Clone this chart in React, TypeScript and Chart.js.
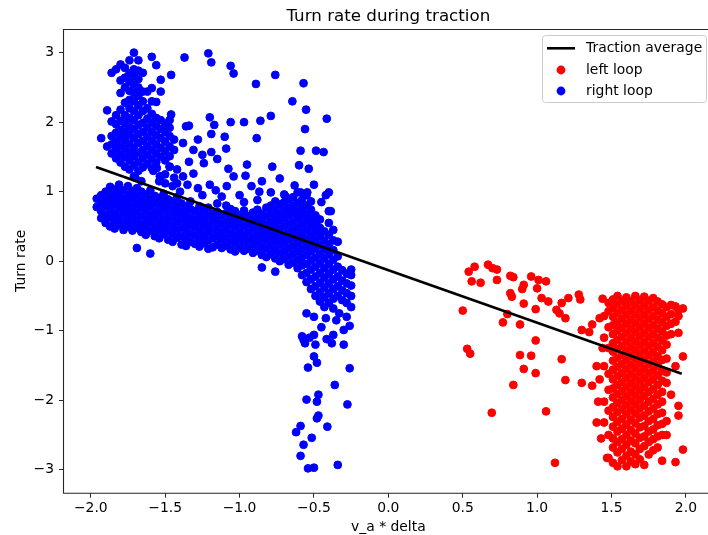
import React, { useEffect, useRef } from "react";
import { Chart, registerables } from "chart.js";

Chart.register(...registerables);

const TITLE = "Turn rate during traction";
const X_LABEL = "v_a * delta";
const Y_LABEL = "Turn rate";
const LEGEND_LABELS = ["Traction average", "left loop", "right loop"];

const xTickValues = [-2, -1.5, -1, -0.5, 0, 0.5, 1, 1.5, 2];
const yTickValues = [-3, -2, -1, 0, 1, 2, 3];

// Traction average (fitted line end points)
const trendX = [-1.965, 1.972];
const trendY = [1.355, -1.619];

// right loop: dense band, columns of [x, ys]
const rightLoopBand: [number, number[]][] = [
  [-1.96, [0.78, 0.9]],
  [-1.93, [0.62, 0.72, 0.84, 0.95]],
  [-1.9, [0.55, 0.66, 0.79, 0.88, 1.0]],
  [-1.87, [0.5, 0.63, 0.74, 0.86, 0.97, 1.07]],
  [-1.84, [0.47, 0.58, 0.69, 0.81, 0.92, 1.03]],
  [-1.81, [0.52, 0.64, 0.76, 0.87, 0.98, 1.1]],
  [-1.78, [0.45, 0.56, 0.68, 0.79, 0.9, 1.02]],
  [-1.75, [0.5, 0.61, 0.73, 0.84, 0.95, 1.08]],
  [-1.72, [0.44, 0.55, 0.67, 0.78, 0.9, 1.01]],
  [-1.69, [0.19, 0.48, 0.6, 0.71, 0.83, 0.94, 1.05]],
  [-1.66, [0.42, 0.53, 0.65, 0.77, 0.88, 1.0]],
  [-1.63, [0.38, 0.5, 0.61, 0.73, 0.84, 0.96]],
  [-1.6, [0.11, 0.44, 0.56, 0.67, 0.79, 0.9, 1.02]],
  [-1.57, [0.36, 0.48, 0.6, 0.71, 0.83, 0.94]],
  [-1.54, [0.33, 0.45, 0.56, 0.68, 0.8, 0.91]],
  [-1.51, [0.39, 0.5, 0.62, 0.74, 0.86, 0.97]],
  [-1.48, [0.31, 0.43, 0.55, 0.66, 0.78, 0.89]],
  [-1.45, [0.28, 0.4, 0.51, 0.63, 0.74, 0.86]],
  [-1.42, [0.34, 0.45, 0.57, 0.69, 0.8, 0.92]],
  [-1.39, [0.24, 0.36, 0.48, 0.6, 0.71, 0.83]],
  [-1.36, [0.22, 0.33, 0.45, 0.56, 0.68, 0.79]],
  [-1.33, [0.28, 0.4, 0.52, 0.63, 0.75, 0.86]],
  [-1.3, [0.25, 0.37, 0.49, 0.6, 0.72]],
  [-1.27, [0.21, 0.32, 0.44, 0.56, 0.67, 0.79]],
  [-1.24, [0.26, 0.38, 0.5, 0.61, 0.73]],
  [-1.21, [0.18, 0.3, 0.42, 0.53, 0.65, 0.77]],
  [-1.18, [0.2, 0.33, 0.45, 0.57, 0.68]],
  [-1.15, [0.24, 0.36, 0.48, 0.59, 0.71, 0.83]],
  [-1.12, [0.19, 0.31, 0.42, 0.54, 0.66]],
  [-1.09, [0.22, 0.34, 0.46, 0.57, 0.69, 0.8]],
  [-1.06, [0.17, 0.29, 0.4, 0.52, 0.63, 0.75]],
  [-1.03, [0.14, 0.26, 0.37, 0.49, 0.6, 0.72]],
  [-1.0, [0.19, 0.31, 0.43, 0.54, 0.66]],
  [-0.97, [0.15, 0.27, 0.38, 0.5, 0.62, 0.73]],
  [-0.94, [0.18, 0.3, 0.41, 0.53, 0.65]],
  [-0.91, [0.12, 0.24, 0.35, 0.47, 0.58, 0.7]],
  [-0.88, [0.15, 0.27, 0.39, 0.5, 0.62, 0.74]],
  [-0.85, [-0.09, 0.09, 0.21, 0.33, 0.44, 0.56, 0.68]],
  [-0.82, [0.06, 0.18, 0.3, 0.41, 0.53, 0.65, 0.77]],
  [-0.79, [0.1, 0.22, 0.34, 0.45, 0.57, 0.69, 0.8]],
  [-0.76, [-0.15, 0.04, 0.16, 0.28, 0.39, 0.51, 0.63, 0.74, 0.86]],
  [-0.73, [0.0, 0.12, 0.24, 0.35, 0.47, 0.59, 0.7, 0.82]],
  [-0.7, [0.03, 0.15, 0.27, 0.38, 0.5, 0.62, 0.73, 0.85, 0.96]],
  [-0.67, [-0.05, 0.07, 0.19, 0.31, 0.42, 0.54, 0.66, 0.77, 0.89]],
  [-0.64, [-0.02, 0.1, 0.22, 0.34, 0.45, 0.57, 0.69, 0.8, 0.92]],
  [-0.61, [-0.1, 0.02, 0.14, 0.26, 0.37, 0.49, 0.61, 0.72, 0.84, 0.99]],
  [-0.58, [-0.2, -0.06, 0.06, 0.18, 0.3, 0.41, 0.53, 0.65, 0.76, 0.88]],
  [-0.55, [-0.3, -0.17, -0.04, 0.09, 0.21, 0.33, 0.45, 0.57, 0.68, 0.8, 0.95]],
  [-0.52, [-0.4, -0.26, -0.12, 0.01, 0.14, 0.26, 0.38, 0.5, 0.62, 0.74, 0.86]],
  [-0.49, [-0.5, -0.36, -0.22, -0.08, 0.05, 0.18, 0.3, 0.42, 0.54, 0.66]],
  [-0.46, [-0.58, -0.45, -0.31, -0.17, -0.03, 0.1, 0.23, 0.36, 0.48, 0.6]],
  [-0.43, [-0.66, -0.52, -0.38, -0.24, -0.1, 0.04, 0.17, 0.3, 0.43]],
  [-0.4, [-0.6, -0.46, -0.32, -0.18, -0.04, 0.1, 0.24, 0.38, 0.55, 0.72]],
  [-0.37, [-0.68, -0.54, -0.4, -0.26, -0.12, 0.02, 0.16, 0.3, 0.45]],
  [-0.34, [-0.5, -0.36, -0.22, -0.08, 0.07, 0.28]],
  [-0.31, [-0.56, -0.42, -0.28, -0.13]],
  [-0.28, [-0.6, -0.46, -0.32, -0.18]],
  [-0.25, [-0.66, -0.5, -0.35, -0.2, -0.12]],
];

// right loop: upper-left cluster, columns of [x, ys]
const rightLoopCluster: [number, number[]][] = [
  [-1.93, [1.77]],
  [-1.89, [1.65, 2.17]],
  [-1.86, [1.55, 1.68, 1.8, 2.01, 2.71]],
  [-1.83, [1.48, 1.6, 1.72, 1.85, 1.97, 2.1, 2.76]],
  [-1.8, [1.42, 1.54, 1.66, 1.78, 1.89, 2.02, 2.18, 2.42, 2.6, 2.83]],
  [-1.77, [1.36, 1.5, 1.62, 1.74, 1.86, 1.98, 2.1, 2.28, 2.5, 2.64, 2.78]],
  [-1.74, [1.32, 1.45, 1.57, 1.69, 1.82, 1.94, 2.06, 2.2, 2.32, 2.45, 2.58, 2.7, 2.89]],
  [-1.71, [1.22, 1.38, 1.51, 1.63, 1.77, 1.9, 2.03, 2.16, 2.3, 2.42, 2.54, 2.66, 2.76, 3.0]],
  [-1.68, [1.3, 1.43, 1.56, 1.7, 1.83, 1.96, 2.1, 2.24, 2.38, 2.5, 2.62, 2.74, 2.89]],
  [-1.65, [1.35, 1.48, 1.6, 1.73, 1.86, 1.99, 2.16, 2.3, 2.44, 2.71]],
  [-1.62, [1.4, 1.53, 1.66, 1.79, 1.92, 2.05, 2.2, 2.44]],
  [-1.59, [1.34, 1.47, 1.6, 1.73, 1.86, 1.99, 2.12, 2.3, 2.49, 2.94]],
  [-1.56, [1.42, 1.55, 1.68, 1.81, 1.94, 2.06, 2.29, 2.82]],
  [-1.53, [1.22, 1.5, 1.63, 1.77, 1.9, 2.03, 2.44, 2.61]],
  [-1.5, [1.25, 1.45, 1.58, 1.72, 1.86, 1.98]],
  [-1.47, [1.36, 1.51, 1.65, 1.8, 1.92, 2.03]],
  [-1.44, [1.2, 1.6, 1.75]],
];

// right loop: scattered points between band and cluster, and above
const rightLoopScatter: [number, number][] = [
  [-1.7, 1.2], [-1.66, 1.15], [-1.58, 1.3], [-1.54, 1.15], [-1.42, 1.12],
  [-1.47, 1.36], [-1.42, 1.32], [-1.38, 1.22], [-1.556, 1.34], [-1.536, 1.22],
  [-1.31, 1.26], [-1.34, 1.43], [-1.24, 1.41], [-1.31, 1.6], [-1.25, 1.53],
  [-1.19, 1.57], [-1.15, 1.47], [-1.075, 1.33], [-0.95, 1.39], [-0.96, 1.23],
  [-0.78, 1.36], [-0.73, 1.19], [-0.63, 1.09], [-0.867, 1.0], [-0.79, 0.99],
  [-0.69, 0.93], [-0.59, 0.99], [-0.545, 0.99], [-0.4, 0.99], [-0.387, 0.72],
  [-1.04, 1.22], [-1.086, 1.08], [-1.2, 1.1], [-1.16, 1.02], [-1.28, 1.05],
  [-1.35, 1.1], [-1.45, 1.08], [-1.5, 1.12], [-1.4, 1.0], [-1.25, 0.95],
  [-1.0, 0.95], [-0.92, 1.08], [-0.85, 1.15], [-1.12, 0.93], [-0.97, 0.85],
  [-0.88, 0.88], [-0.6, 1.38], [-0.535, 1.33], [-0.59, 1.59], [-0.486, 1.59],
  [-0.435, 1.57], [-0.5, 1.1], [-0.45, 0.85], [-0.42, 0.95],
  [-1.37, 2.93], [-1.21, 2.99], [-1.19, 2.86], [-1.06, 2.81], [-1.04, 2.7],
  [-0.89, 2.55], [-0.76, 2.68], [-0.57, 2.56], [-0.645, 2.3], [-0.553, 2.18],
  [-0.414, 2.05], [-0.56, 1.9], [-0.79, 2.09], [-0.86, 2.02], [-0.885, 1.77],
  [-0.97, 2.0], [-1.06, 2.0], [-1.2, 2.07], [-1.17, 1.96], [-1.19, 1.83],
  [-1.1, 1.79], [-1.09, 1.62], [-1.36, 1.94], [-1.34, 1.95], [-1.46, 2.11],
  [-1.46, 2.68], [-1.38, 1.7], [-1.28, 1.75],
];

// right loop: vertical tail below the band
const rightLoopTail: [number, number][] = [
  [-0.55, -0.75], [-0.5, -0.8], [-0.42, -0.82], [-0.33, -0.75], [-0.28, -0.8],
  [-0.45, -0.95], [-0.35, -0.85], [-0.26, -0.93], [-0.3, -0.99], [-0.58, -1.08],
  [-0.56, -1.18], [-0.5, -1.06], [-0.49, -1.2], [-0.415, -1.12], [-0.37, -1.06],
  [-0.38, -1.18], [-0.3, -1.2], [-0.57, -1.13], [-0.53, -1.1], [-0.5, -1.37],
  [-0.48, -1.46], [-0.54, -1.53], [-0.26, -1.54], [-0.36, -1.78], [-0.55, -1.99],
  [-0.48, -2.02], [-0.47, -1.92], [-0.275, -2.06], [-0.48, -2.26], [-0.47, -2.22],
  [-0.59, -2.37], [-0.62, -2.46], [-0.41, -2.38], [-0.515, -2.54], [-0.57, -2.64],
  [-0.59, -2.8], [-0.54, -2.98], [-0.5, -2.97], [-0.34, -2.93],
];

// left loop: sparse points to the left of the column
const leftLoopScatter: [number, number][] = [
  [0.54, -0.15], [0.58, -0.08], [0.56, -0.29], [0.62, -0.31], [0.67, -0.05],
  [0.7, -0.1], [0.73, -0.12], [0.73, -0.27], [0.82, -0.21], [0.84, -0.23],
  [0.91, -0.34], [0.9, -0.4], [0.96, -0.22], [1.01, -0.27], [1.06, -0.29],
  [1.0, -0.39], [0.82, -0.46], [0.83, -0.51], [0.91, -0.61], [1.03, -0.53],
  [1.075, -0.58], [0.99, -0.69], [0.5, -0.71], [0.8, -0.76], [0.77, -0.88],
  [0.885, -0.91], [1.13, -0.7], [1.165, -0.6], [1.19, -0.82], [1.15, -0.75],
  [1.21, -0.53], [1.28, -0.48], [1.29, -0.55], [0.99, -1.14], [0.53, -1.26],
  [0.55, -1.33], [0.885, -1.35], [0.96, -1.36], [1.165, -1.41], [0.91, -1.55],
  [0.99, -1.61], [0.84, -1.78], [1.19, -1.71], [1.3, -1.75], [1.37, -1.79],
  [0.695, -2.18], [1.06, -2.16], [1.12, -2.9], [1.44, -0.54], [1.3, -0.99],
  [1.37, -0.91], [1.42, -0.82], [1.35, -1.02], [1.4, -1.51], [1.42, -1.7],
  [1.41, -2.02], [1.4, -2.32], [1.47, -2.83], [1.44, -1.25], [1.43, -2.55],
];

// left loop: dense column, columns of [x, ys]
const leftLoopColumn: [number, number[]][] = [
  [1.45, [-0.79, -1.1, -1.51, -2.02, -2.32]],
  [1.48, [-0.6, -0.72, -0.95, -1.25, -1.62, -1.85, -2.15, -2.5, -2.83]],
  [1.51, [-0.55, -0.67, -0.8, -0.92, -1.05, -1.18, -1.3, -1.43, -1.56, -1.7, -1.83, -1.96, -2.1, -2.24, -2.38, -2.55, -2.68, -2.9]],
  [1.54, [-0.5, -0.62, -0.75, -0.88, -1.0, -1.13, -1.26, -1.39, -1.52, -1.65, -1.78, -1.91, -2.04, -2.17, -2.31, -2.45, -2.6, -2.75, -2.95]],
  [1.57, [-0.57, -0.7, -0.83, -0.96, -1.09, -1.22, -1.35, -1.48, -1.61, -1.74, -1.87, -2.0, -2.13, -2.27, -2.41, -2.56, -2.7, -2.86]],
  [1.6, [-0.52, -0.64, -0.77, -0.9, -1.03, -1.16, -1.29, -1.42, -1.55, -1.68, -1.81, -1.94, -2.07, -2.2, -2.35, -2.5, -2.64, -2.8, -2.95]],
  [1.63, [-0.58, -0.71, -0.84, -0.97, -1.1, -1.23, -1.36, -1.49, -1.62, -1.75, -1.88, -2.01, -2.14, -2.28, -2.43, -2.58, -2.74, -2.88]],
  [1.66, [-0.5, -0.63, -0.76, -0.89, -1.02, -1.15, -1.28, -1.41, -1.54, -1.67, -1.8, -1.93, -2.06, -2.19, -2.33, -2.48, -2.62, -2.78, -2.92]],
  [1.69, [-0.56, -0.69, -0.82, -0.95, -1.08, -1.21, -1.34, -1.47, -1.6, -1.73, -1.86, -1.99, -2.12, -2.25, -2.39, -2.54, -2.7, -2.85]],
  [1.72, [-0.51, -0.64, -0.77, -0.9, -1.03, -1.16, -1.29, -1.42, -1.55, -1.68, -1.81, -1.94, -2.08, -2.22, -2.37, -2.52, -2.66, -2.93]],
  [1.75, [-0.57, -0.7, -0.83, -0.96, -1.09, -1.22, -1.35, -1.48, -1.61, -1.74, -1.88, -2.02, -2.16, -2.3, -2.45, -2.6, -2.78]],
  [1.78, [-0.53, -0.66, -0.79, -0.92, -1.05, -1.18, -1.31, -1.44, -1.57, -1.7, -1.84, -1.98, -2.12, -2.27, -2.42, -2.56, -2.72]],
  [1.81, [-0.58, -0.71, -0.84, -0.97, -1.1, -1.23, -1.37, -1.5, -1.64, -1.78, -1.92, -2.06, -2.2, -2.36, -2.52, -2.68]],
  [1.84, [-0.62, -0.75, -0.88, -1.01, -1.14, -1.28, -1.42, -1.58, -1.72, -1.88, -2.02, -2.18, -2.34, -2.5, -2.87]],
  [1.87, [-0.66, -0.8, -0.93, -1.07, -1.2, -1.4, -1.6, -1.75, -2.3, -2.5]],
  [1.9, [-0.63, -0.76, -0.9, -1.05, -1.92]],
  [1.93, [-0.65, -0.87, -1.51, -2.89]],
  [1.95, [-0.7, -0.79, -1.03, -2.08, -2.22]],
  [1.98, [-0.68, -1.37, -2.71]],
];

const RED = "#ff0000";
const BLUE = "#0000ff";
const FONT = "'DejaVu Sans', sans-serif";

// Layout (pixels)
const CANVAS_W = 720;
const CANVAS_H = 535;
const VIEW_W = 708;
const PLOT_LEFT = 64;
const PLOT_TOP = 29;
const PLOT_RIGHT = 712.7;
const PLOT_BOTTOM = 492.7;

const fromColumns = (cols: [number, number[]][]) =>
  cols.flatMap(([x, ys]) => ys.map((y) => ({ x, y })));
const fromPairs = (pairs: [number, number][]) => pairs.map(([x, y]) => ({ x, y }));

const minus = (s: string) => s.replace("-", "\u2212");

const decorPlugin = {
  id: "decor",
  afterDraw(chart: any) {
    const ctx = chart.ctx as CanvasRenderingContext2D;
    const a = chart.chartArea;
    ctx.save();
    // spines: left, top, bottom (right spine lies beyond the visible edge)
    ctx.strokeStyle = "#262626";
    ctx.lineWidth = 1.1;
    ctx.beginPath();
    ctx.moveTo(CANVAS_W, a.top + 0.5);
    ctx.lineTo(a.left - 0.5, a.top + 0.5);
    ctx.lineTo(a.left - 0.5, a.bottom + 0.5);
    ctx.lineTo(CANVAS_W, a.bottom + 0.5);
    ctx.stroke();
    // title
    const cx = (a.left + a.right) / 2;
    ctx.fillStyle = "#000";
    ctx.font = `16.7px ${FONT}`;
    ctx.textAlign = "center";
    ctx.textBaseline = "alphabetic";
    ctx.fillText(TITLE, cx, 20.5);
    // x label
    ctx.font = `13.9px ${FONT}`;
    ctx.fillText(X_LABEL, cx, 531);
    // y label
    ctx.save();
    ctx.translate(25, (a.top + a.bottom) / 2);
    ctx.rotate(-Math.PI / 2);
    ctx.fillText(Y_LABEL, 0, 0);
    ctx.restore();
    // legend
    const lx = 542, ly = 35, lw = 164, lh = 67;
    ctx.beginPath();
    ctx.roundRect(lx + 0.5, ly + 0.5, lw, lh, 3);
    ctx.fillStyle = "rgba(255,255,255,0.8)";
    ctx.fill();
    ctx.strokeStyle = "#cccccc";
    ctx.lineWidth = 1;
    ctx.stroke();
    const rows = [48.3, 70, 91];
    ctx.strokeStyle = "#000";
    ctx.lineWidth = 2.6;
    ctx.beginPath();
    ctx.moveTo(547, rows[0]);
    ctx.lineTo(575, rows[0]);
    ctx.stroke();
    ctx.fillStyle = RED;
    ctx.beginPath();
    ctx.arc(561, rows[1], 4.4, 0, Math.PI * 2);
    ctx.fill();
    ctx.fillStyle = BLUE;
    ctx.beginPath();
    ctx.arc(561, rows[2], 4.4, 0, Math.PI * 2);
    ctx.fill();
    ctx.fillStyle = "#000";
    ctx.textAlign = "left";
    ctx.textBaseline = "middle";
    ctx.font = `13.9px ${FONT}`;
    LEGEND_LABELS.forEach((t, i) => ctx.fillText(t, 586, rows[i] + 0.5));
    ctx.restore();
  },
};

export default function App() {
  const ref = useRef<HTMLCanvasElement | null>(null);
  useEffect(() => {
    if (!ref.current) return;
    const tickFont = { family: FONT, size: 13.9 };
    const chart = new Chart(ref.current, {
      type: "scatter",
      data: {
        datasets: [
          {
            label: LEGEND_LABELS[0],
            data: trendX.map((x, i) => ({ x, y: trendY[i] })),
            showLine: true,
            borderColor: "#000",
            borderWidth: 2.7,
            pointRadius: 0,
            backgroundColor: "#000",
          },
          {
            label: LEGEND_LABELS[1],
            data: [...fromPairs(leftLoopScatter), ...fromColumns(leftLoopColumn)],
            backgroundColor: RED,
            borderColor: RED,
            borderWidth: 1,
            pointRadius: 3.9,
          },
          {
            label: LEGEND_LABELS[2],
            data: [
              ...fromColumns(rightLoopBand),
              ...fromColumns(rightLoopCluster),
              ...fromPairs(rightLoopScatter),
              ...fromPairs(rightLoopTail),
            ],
            backgroundColor: BLUE,
            borderColor: BLUE,
            borderWidth: 1,
            pointRadius: 3.9,
          },
        ],
      },
      options: {
        responsive: false,
        animation: false,
        devicePixelRatio: 1,
        events: [],
        layout: { padding: { top: PLOT_TOP, right: CANVAS_W - PLOT_RIGHT, left: 0, bottom: 0 } },
        plugins: {
          legend: { display: false },
          title: { display: false },
          tooltip: { enabled: false },
        },
        scales: {
          x: {
            type: "linear",
            min: -2.18,
            max: 2.18,
            afterBuildTicks: (s: any) => {
              s.ticks = xTickValues.map((v) => ({ value: v }));
            },
            afterFit: (s: any) => {
              s.height = CANVAS_H - PLOT_BOTTOM;
            },
            grid: { drawOnChartArea: false, drawTicks: true, tickLength: 5, tickColor: "#262626", tickWidth: 1 },
            border: { display: false },
            ticks: {
              autoSkip: false,
              maxRotation: 0,
              padding: 2,
              color: "#000",
              font: tickFont,
              callback: (v: any) => minus(Number(v).toFixed(1)),
            },
          },
          y: {
            type: "linear",
            min: -3.33,
            max: 3.34,
            afterBuildTicks: (s: any) => {
              s.ticks = yTickValues.map((v) => ({ value: v }));
            },
            afterFit: (s: any) => {
              s.width = PLOT_LEFT;
            },
            grid: { drawOnChartArea: false, drawTicks: true, tickLength: 5, tickColor: "#262626", tickWidth: 1 },
            border: { display: false },
            ticks: {
              autoSkip: false,
              padding: 5,
              color: "#000",
              font: tickFont,
              callback: (v: any) => minus(String(Math.round(Number(v)))),
            },
          },
        },
      },
      plugins: [decorPlugin],
    } as any);
    return () => chart.destroy();
  }, []);
  return (
    <div
      style={{
        position: "absolute",
        left: 0,
        top: 0,
        width: VIEW_W,
        height: CANVAS_H,
        overflow: "hidden",
        background: "#fff",
      }}
    >
      <canvas
        ref={ref}
        width={CANVAS_W}
        height={CANVAS_H}
        style={{ width: CANVAS_W, height: CANVAS_H, display: "block" }}
      />
    </div>
  );
}
